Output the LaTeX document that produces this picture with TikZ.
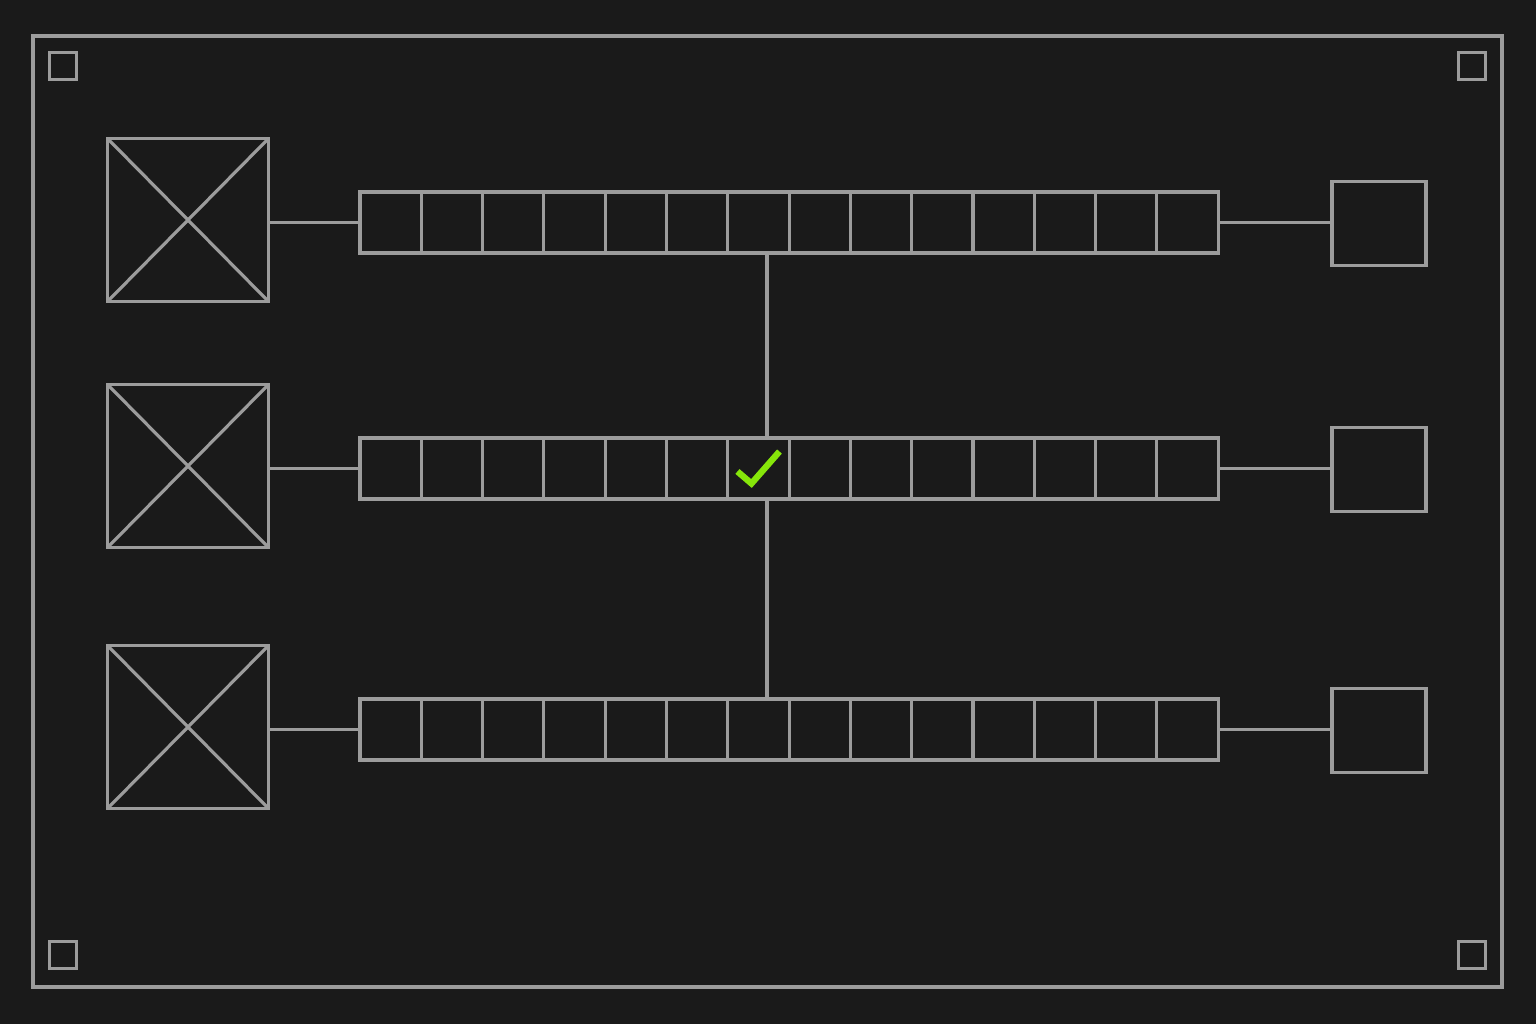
\documentclass[tikz,border=0pt]{standalone}
\usetikzlibrary{positioning, calc}
\definecolor{board}{HTML}{1A1A1A}
\definecolor{wire}{HTML}{9C9C9C}
\definecolor{ok}{HTML}{86E60A}

\begin{document}
\begin{tikzpicture}[
    x=0.02cm, y=-0.02cm,
    box/.style={rectangle, draw=wire, line width=1.8pt, inner sep=0pt, outer sep=0pt},
    unit/.style={box, minimum width=161*0.02cm, minimum height=163*0.02cm},
    cell/.style={box, minimum width=61.3*0.02cm, minimum height=61*0.02cm},
    port/.style={box, minimum width=94*0.02cm, minimum height=84*0.02cm},
    pin/.style={box, minimum size=27*0.02cm},
    link/.style={draw=wire, line width=1.8pt},
    tick/.style={draw=ok, line width=3.6pt}
]
    \fill[board] (0,0) rectangle (1536,1024);
    \useasboundingbox (0,0) rectangle (1536,1024);
    \node[box, minimum width=1469*0.02cm, minimum height=951*0.02cm] (frame) at (767.5,511.5) {};
    \foreach \n/\x/\y in {1/63/66, 2/1472/66, 3/63/955, 4/1472/955}
        \node[pin] (pin\n) at (\x,\y) {};
    \foreach \r/\y in {1/222.5, 2/468.5, 3/729.5} {
        \node[unit] (u\r) at (188,\y-2.5) {};
        \draw[link] (u\r.north west) -- (u\r.south east) (u\r.north east) -- (u\r.south west);
        \foreach \c in {1,...,14}
            \node[cell] (c\r-\c) at (360+61.3*\c-30.65,\y) {};
        \node[port] (p\r) at (1379,\y+1) {};
        \draw[link] (u\r.east |- c\r-1.west) -- (c\r-1.west);
        \draw[link] (c\r-14.east) -- (c\r-14.east -| p\r.west);
    }
    \coordinate (spine) at (767,0);
    \draw[link] (spine |- c1-7.south) -- (spine |- c2-7.north)
                (spine |- c2-7.south) -- (spine |- c3-7.north);
    \draw[tick] ($(c2-7.center)+(-21,3)$) -- ++(14,12) -- ++(28,-32);
\end{tikzpicture}
\end{document}
